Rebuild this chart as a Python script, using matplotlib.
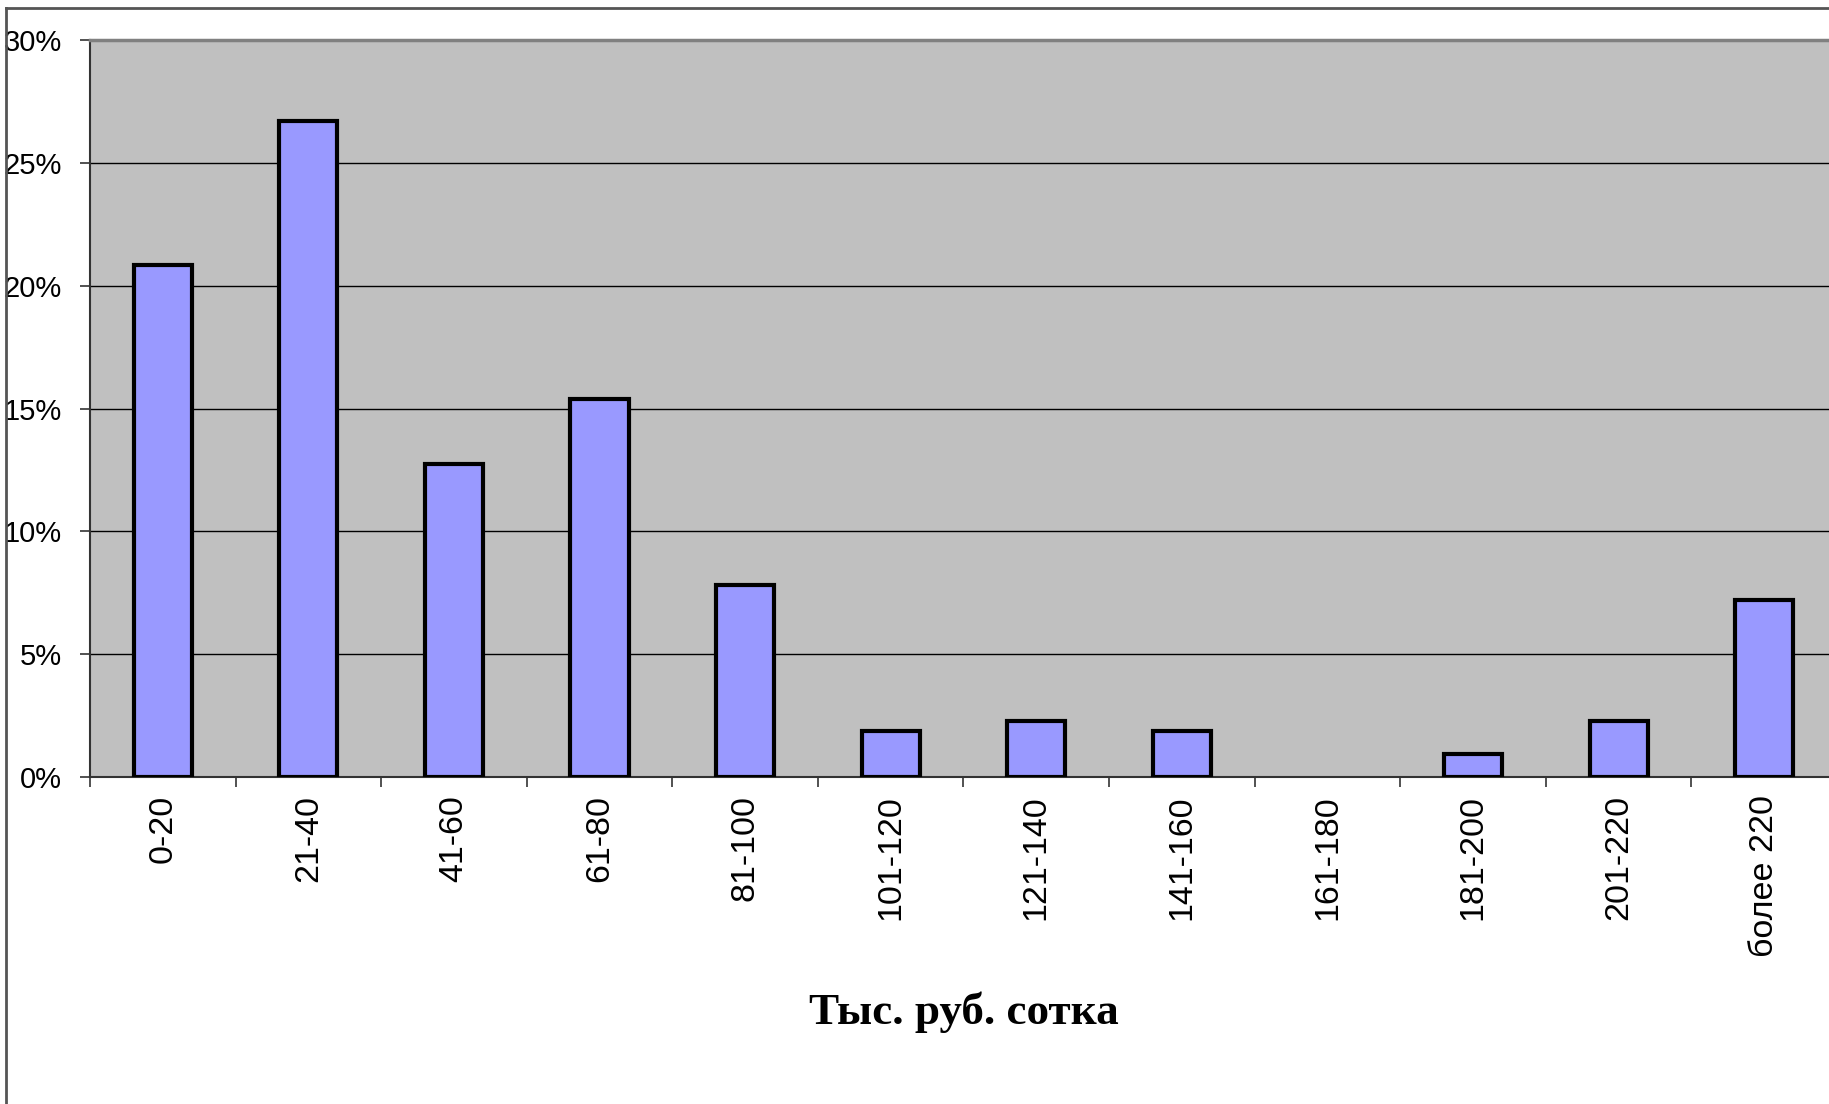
import matplotlib
matplotlib.use("Agg")
import matplotlib.pyplot as plt
from matplotlib.lines import Line2D
from matplotlib.ticker import FuncFormatter, FixedLocator
import numpy as np

categories = ["0-20", "21-40", "41-60", "61-80", "81-100", "101-120",
              "121-140", "141-160", "161-180", "181-200", "201-220", "более 220"]
values = [20.85, 26.72, 12.74, 15.37, 7.80, 1.89, 2.28, 1.89, 0.0, 0.93, 2.28, 7.22]
y_ticks = [0, 5, 10, 15, 20, 25, 30]
x_title = "Тыс. руб. сотка"

W, H = 1829, 1104
fig = plt.figure(figsize=(W / 100, H / 100), dpi=100)
fig.patch.set_facecolor("white")

left_px, right_px, top_px, bottom_px = 90, 1837, 40, 777
ax = fig.add_axes([left_px / W, (H - bottom_px) / H,
                   (right_px - left_px) / W, (bottom_px - top_px) / H])
ax.set_facecolor("#C0C0C0")

x = np.arange(len(categories))
lws = [3.0 if v > 0 else 0.0 for v in values]
ax.bar(x, values, width=0.4, color="#9999FF", edgecolor="black",
       linewidth=lws, zorder=3)

ax.set_xlim(-0.5, len(categories) - 0.5)
ax.set_ylim(0, 30)
ax.set_yticks(y_ticks)
ax.yaxis.set_major_formatter(FuncFormatter(lambda v, p: f"{int(v)}%"))
ax.grid(axis="y", color="black", linewidth=1.0, zorder=1)
ax.set_axisbelow(True)

# x ticks at category boundaries, labels at centers
ax.xaxis.set_major_locator(FixedLocator(np.arange(-0.5, len(categories) + 0.5, 1.0)))
ax.xaxis.set_major_formatter(FuncFormatter(lambda v, p: ""))
ax.set_xticks(x, minor=True)
ax.set_xticklabels(categories, minor=True, rotation=90, fontsize=24.5,
                   family="Liberation Sans", va="top", ha="center")
ax.tick_params(axis="x", which="minor", length=0, pad=13)
ax.tick_params(axis="x", which="major", length=7, width=1.2, color="#333333",
               direction="out")
ax.tick_params(axis="y", length=7, width=1.2, color="#333333", direction="out",
               pad=13)
for lbl in ax.get_yticklabels():
    lbl.set_fontsize(21)
    lbl.set_family("Liberation Sans")

ax.spines["right"].set_visible(False)
ax.spines["top"].set_color("#808080")
ax.spines["top"].set_linewidth(2.5)
ax.spines["left"].set_color("#333333")
ax.spines["left"].set_linewidth(1.5)
ax.spines["bottom"].set_color("#333333")
ax.spines["bottom"].set_linewidth(1.5)

ax.set_xlabel(x_title, fontsize=32.5, family="Liberation Serif",
              fontweight="bold", labelpad=25)

# outer chart frame (left and top edges visible)
fig.add_artist(Line2D([5.5 / W, 5.5 / W], [0, 1 - 8 / H],
                      transform=fig.transFigure, color="#555555", linewidth=2.0))
fig.add_artist(Line2D([5.5 / W, 1], [1 - 8 / H, 1 - 8 / H],
                      transform=fig.transFigure, color="#555555", linewidth=2.0))

fig.savefig("out.png", dpi=100, facecolor="white")
